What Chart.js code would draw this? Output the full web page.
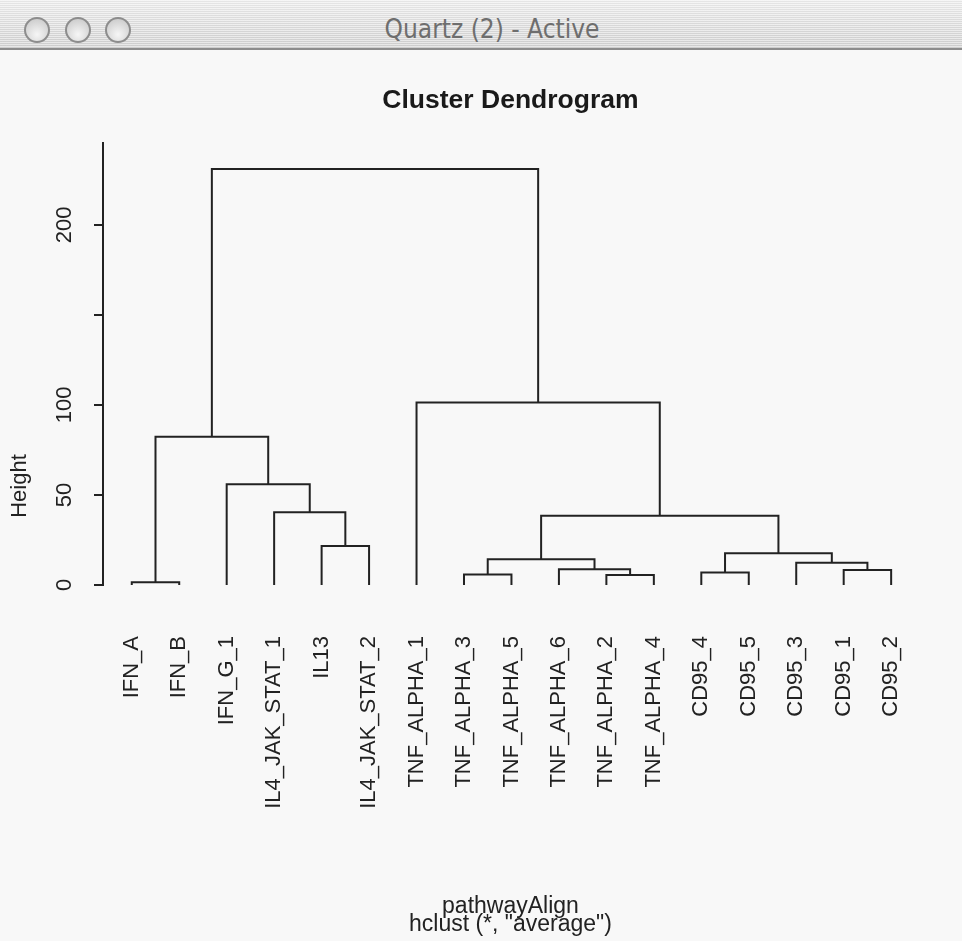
<!DOCTYPE html>
<html>
<head>
<meta charset="utf-8">
<title>Cluster Dendrogram</title>
<script src="https://cdn.jsdelivr.net/npm/chart.js"></script>
<style>
  html, body { margin: 0; padding: 0; background: #f8f8f8; }
  #wrap { position: relative; width: 962px; height: 941px; overflow: hidden; }
  #bar {
    position: absolute; left: 0; top: 0; width: 962px; height: 48px;
    border-bottom: 2px solid #8c8c8c;
    background:
      repeating-linear-gradient(180deg, rgba(255,255,255,0.45) 0px, rgba(255,255,255,0.45) 1px, rgba(0,0,0,0.035) 1px, rgba(0,0,0,0.035) 2px),
      linear-gradient(#eeeeee, #d4d4d4);
  }
  .dot {
    position: absolute; top: 17px; width: 22px; height: 22px; border-radius: 50%;
    border: 2px solid #8d8d8d;
    background: radial-gradient(circle at 50% 70%, #f6f6f6, #c4c4c4);
  }
  #bartitle {
    position: absolute; left: 0; top: 16px; width: 984px; text-align: center;
    font: 26px "DejaVu Sans Condensed", "Liberation Sans Narrow", sans-serif; line-height: 1;
    color: #6e6e6e;
  }
  #chart { position: absolute; left: 0; top: 0; }
</style>
</head>
<body>
<div id="wrap">
  <canvas id="chart" width="962" height="941"></canvas>
  <div id="bar">
    <div class="dot" style="left:24px"></div>
    <div class="dot" style="left:65px"></div>
    <div class="dot" style="left:105px"></div>
    <div id="bartitle">Quartz (2) - Active</div>
  </div>
</div>
<script>
// leaves in plotting order
var leafLabels = ['IFN_A', 'IFN_B', 'IFN_G_1', 'IL4_JAK_STAT_1', 'IL13', 'IL4_JAK_STAT_2',
  'TNF_ALPHA_1', 'TNF_ALPHA_3', 'TNF_ALPHA_5', 'TNF_ALPHA_6', 'TNF_ALPHA_2', 'TNF_ALPHA_4',
  'CD95_4', 'CD95_5', 'CD95_3', 'CD95_1', 'CD95_2'];

// hclust style merge table: negative = leaf number, positive = earlier merge row
var mergeLeft   = [-1, -11, -8, -13, -16, -10, -15, 3, 4, -5, 8, -4, -3, 1, -7, 14];
var mergeRight  = [-2, -12, -9, -14, -17, 2, 5, 6, 7, -6, 9, 10, 12, 13, 11, 15];
var mergeHeight = [1.5, 5.6, 5.9, 6.9, 8.3, 8.7, 12.4, 14.3, 17.6, 21.7, 38.5, 40.4, 55.9, 82.4, 101.3, 231];

var yTicks = [0, 50, 100, 150, 200];
var yTickLabels = ['0', '50', '100', '', '200'];

var ink = '#222222';
var font = "'Liberation Sans', Arial, Helvetica, sans-serif";

var nodeX = [];
var nodeY = [];
function childPos(c) {
  if (c < 0) return { x: -c, y: 0 };
  return { x: nodeX[c - 1], y: nodeY[c - 1] };
}

var datasets = [];
for (var i = 0; i < mergeHeight.length; i++) {
  var a = childPos(mergeLeft[i]);
  var b = childPos(mergeRight[i]);
  var h = mergeHeight[i];
  nodeX.push((a.x + b.x) / 2);
  nodeY.push(h);
  datasets.push({
    data: [{ x: a.x, y: a.y }, { x: a.x, y: h }, { x: b.x, y: h }, { x: b.x, y: b.y }],
    showLine: true,
    borderColor: ink,
    borderWidth: 2,
    borderCapStyle: 'butt',
    borderJoinStyle: 'miter',
    pointRadius: 0,
    tension: 0,
    clip: false
  });
}

// y axis title sits lower than Chart.js would centre it
var heightLabel = {
  id: 'heightLabel',
  afterDraw: function(chart) {
    var ctx = chart.ctx;
    ctx.save();
    ctx.translate(20, 486);
    ctx.rotate(-Math.PI / 2);
    ctx.font = '22px ' + font;
    ctx.fillStyle = ink;
    ctx.textAlign = 'center';
    ctx.textBaseline = 'middle';
    ctx.fillText('Height', 0, 0);
    ctx.restore();
  }
};

new Chart(document.getElementById('chart'), {
  type: 'scatter',
  data: { datasets: datasets },
  plugins: [heightLabel],
  options: {
    responsive: false,
    animation: false,
    devicePixelRatio: 1,
    layout: { padding: { left: 0, right: 37, top: 0, bottom: 7 } },
    plugins: {
      legend: { display: false },
      tooltip: { enabled: false },
      title: {
        display: true,
        text: 'Cluster Dendrogram',
        fullSize: false,
        color: '#1a1a1a',
        font: { family: font, size: 26.5, weight: 'bold', lineHeight: '31px' },
        padding: { top: 85.5, bottom: 26.5 }
      }
    },
    scales: {
      x: {
        type: 'linear',
        min: 0.394,
        max: 17.564,
        grid: { display: false },
        border: { display: false },
        afterBuildTicks: function(scale) {
          scale.ticks = leafLabels.map(function(l, i) { return { value: i + 1 }; });
        },
        afterFit: function(scale) { scale.height = 349; },
        ticks: {
          autoSkip: false,
          minRotation: 90,
          maxRotation: 90,
          padding: 43,
          color: ink,
          font: { family: font, size: 22 },
          callback: function(v) { return leafLabels[v - 1]; }
        },
        title: {
          display: true,
          text: ['pathwayAlign', 'hclust (*, "average")'],
          color: ink,
          font: { family: font, size: 23, lineHeight: '18px' },
          padding: { top: 0, bottom: 0 }
        }
      },
      y: {
        type: 'linear',
        min: 0,
        max: 245.5,
        afterBuildTicks: function(scale) {
          scale.ticks = yTicks.map(function(v) { return { value: v }; });
        },
        afterFit: function(scale) { scale.width = 103; },
        grid: { drawOnChartArea: false, drawTicks: true, tickLength: 9, color: ink, lineWidth: 2 },
        border: { display: true, color: ink, width: 2 },
        ticks: {
          minRotation: 90,
          crossAlign: 'center',
          padding: 11,
          color: ink,
          font: { family: font, size: 22 },
          callback: function(v, idx) { return yTickLabels[idx]; }
        }
      }
    }
  }
});
</script>
</body>
</html>
